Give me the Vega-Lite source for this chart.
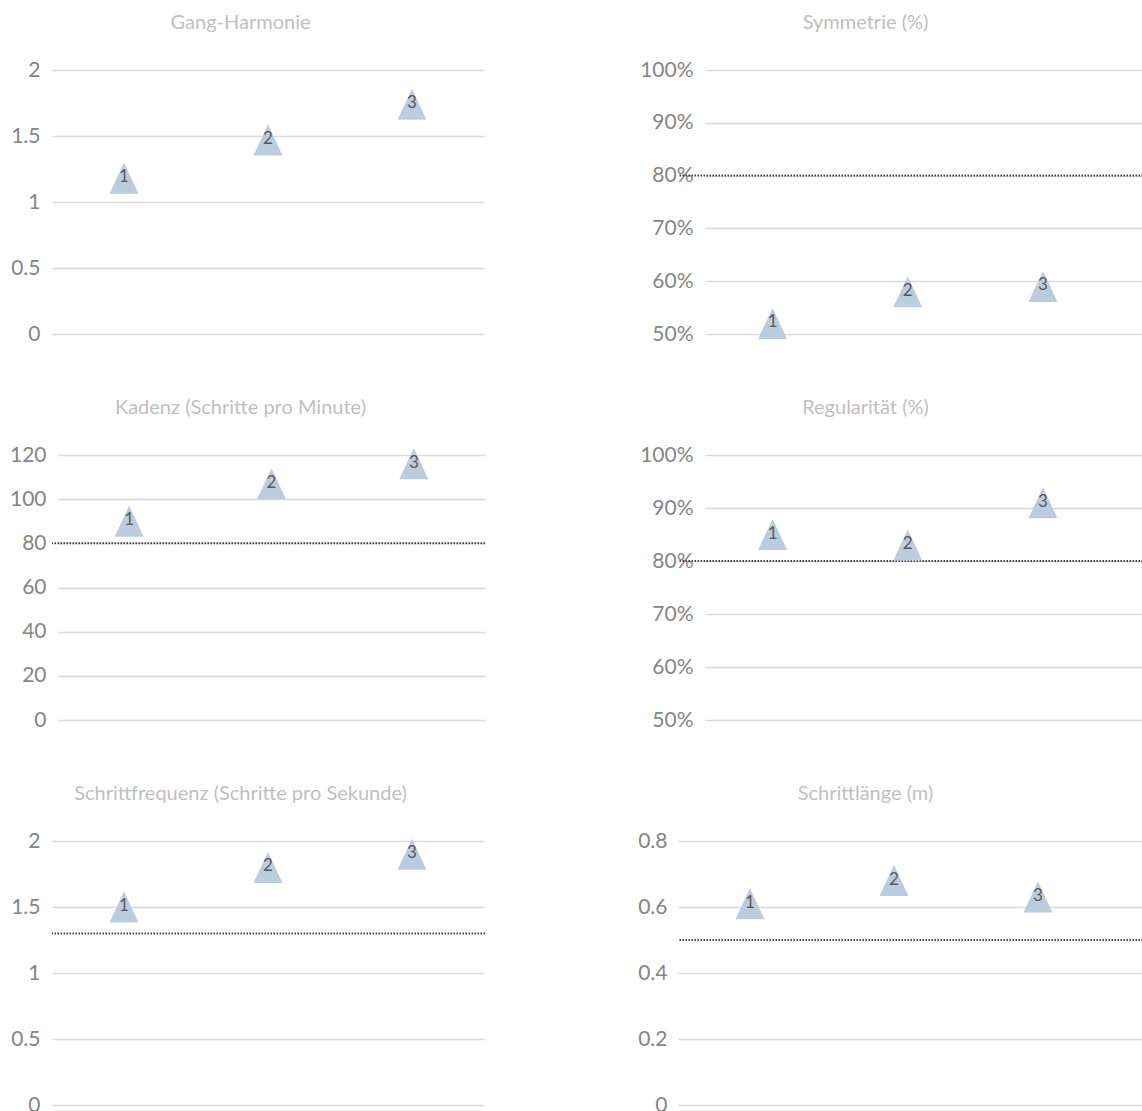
{
  "$schema": "https://vega.github.io/schema/vega-lite/v6.json",
  "padding": {"left": 0, "top": 13, "right": 0, "bottom": 0},
  "background": "white",
  "columns": 2,
  "spacing": {"row": 54, "column": 139},
  "config": {
    "view": {"stroke": null},
    "font": "Lato",
    "title": {"font": "Lato", "fontSize": 20, "fontWeight": "normal", "color": "#BFBFBF", "frame": "group", "anchor": "middle", "offset": 26},
    "axisY": {"domain": false, "ticks": false, "labelPadding": 12, "labelFont": "Lato", "labelFontSize": 21, "labelColor": "#858585", "gridColor": "#D9D9D9", "gridWidth": 1.5, "title": null}
  },
  "datasets": {
    "pts": [
      {"panel": "p1", "cat": 1, "value": 1.18},
      {"panel": "p1", "cat": 2, "value": 1.47},
      {"panel": "p1", "cat": 3, "value": 1.74},
      {"panel": "p2", "cat": 1, "value": 0.52},
      {"panel": "p2", "cat": 2, "value": 0.58},
      {"panel": "p2", "cat": 3, "value": 0.59},
      {"panel": "p3", "cat": 1, "value": 90},
      {"panel": "p3", "cat": 2, "value": 107},
      {"panel": "p3", "cat": 3, "value": 116},
      {"panel": "p4", "cat": 1, "value": 0.85},
      {"panel": "p4", "cat": 2, "value": 0.83},
      {"panel": "p4", "cat": 3, "value": 0.91},
      {"panel": "p5", "cat": 1, "value": 1.5},
      {"panel": "p5", "cat": 2, "value": 1.8},
      {"panel": "p5", "cat": 3, "value": 1.9},
      {"panel": "p6", "cat": 1, "value": 0.61},
      {"panel": "p6", "cat": 2, "value": 0.68},
      {"panel": "p6", "cat": 3, "value": 0.63}
    ],
    "thr": [
      {"panel": "p2", "value": 0.8},
      {"panel": "p3", "value": 80},
      {"panel": "p4", "value": 0.8},
      {"panel": "p5", "value": 1.3},
      {"panel": "p6", "value": 0.5}
    ]
  },
  "concat": [
    {
      "title": {"text": "Gang-Harmonie", "dx": -28},
      "width": 433, "height": 264,
      "data": {"name": "pts"},
      "transform": [{"filter": "datum.panel == 'p1'"}],
      "encoding": {
        "x": {"field": "cat", "type": "quantitative", "scale": {"domain": [0.5, 3.5], "range": [0, 432], "nice": false, "zero": false}, "axis": null},
        "y": {"field": "value", "type": "quantitative", "scale": {"domain": [0, 2], "nice": false, "zero": false}, "axis": {"values": [0, 0.5, 1, 1.5, 2], "format": "~g", "minExtent": 52, "maxExtent": 52}}
      },
      "layer": [
        {"mark": {"type": "point", "shape": "M-1,1.07L1,1.07L0,-1.07Z", "size": 841, "filled": true, "color": "#BCCCDF", "opacity": 1}},
        {"mark": {"type": "text", "font": "Lato", "fontSize": 17, "color": "#595959", "baseline": "middle", "align": "center", "dy": -1}, "encoding": {"text": {"field": "cat", "type": "nominal"}}}
      ]
    },
    {
      "title": {"text": "Symmetrie (%)", "dx": -45},
      "width": 465, "height": 264,
      "encoding": {
        "y": {"field": "value", "type": "quantitative", "scale": {"domain": [0.5, 1], "nice": false, "zero": false}, "axis": {"values": [0.5, 0.6, 0.7, 0.8, 0.9, 1], "format": ".0%", "labelPadding": -15, "minExtent": 53, "maxExtent": 53}}
      },
      "layer": [
        {
          "data": {"name": "thr"},
          "transform": [{"filter": "datum.panel == 'p2'"}],
          "mark": {"type": "rule", "color": "#404040", "strokeWidth": 2, "strokeDash": [1.5, 1.5]}
        },
        {
          "data": {"name": "pts"},
          "transform": [{"filter": "datum.panel == 'p2'"}],
          "encoding": {"x": {"field": "cat", "type": "quantitative", "scale": {"domain": [0.5, 3.74], "range": [27, 465], "nice": false, "zero": false}, "axis": null}},
          "layer": [
            {"mark": {"type": "point", "shape": "M-1,1.07L1,1.07L0,-1.07Z", "size": 841, "filled": true, "color": "#BCCCDF", "opacity": 1}},
            {"mark": {"type": "text", "font": "Lato", "fontSize": 17, "color": "#595959", "baseline": "middle", "align": "center", "dy": -1}, "encoding": {"text": {"field": "cat", "type": "nominal"}}}
          ]
        }
      ]
    },
    {
      "title": {"text": "Kadenz (Schritte pro Minute)", "dx": -28},
      "width": 433, "height": 265,
      "encoding": {
        "y": {"field": "value", "type": "quantitative", "scale": {"domain": [0, 120], "nice": false, "zero": false}, "axis": {"values": [0, 20, 40, 60, 80, 100, 120], "labelPadding": 6, "minExtent": 52, "maxExtent": 52}}
      },
      "layer": [
        {
          "data": {"name": "thr"},
          "transform": [{"filter": "datum.panel == 'p3'"}],
          "mark": {"type": "rule", "color": "#404040", "strokeWidth": 2, "strokeDash": [1.5, 1.5]}
        },
        {
          "data": {"name": "pts"},
          "transform": [{"filter": "datum.panel == 'p3'"}],
          "encoding": {"x": {"field": "cat", "type": "quantitative", "scale": {"domain": [0.5, 3.5], "range": [6, 433], "nice": false, "zero": false}, "axis": null}},
          "layer": [
            {"mark": {"type": "point", "shape": "M-1,1.07L1,1.07L0,-1.07Z", "size": 841, "filled": true, "color": "#BCCCDF", "opacity": 1}},
            {"mark": {"type": "text", "font": "Lato", "fontSize": 17, "color": "#595959", "baseline": "middle", "align": "center", "dy": -1}, "encoding": {"text": {"field": "cat", "type": "nominal"}}}
          ]
        }
      ]
    },
    {
      "title": {"text": "Regularität (%)", "dx": -45},
      "width": 465, "height": 265,
      "encoding": {
        "y": {"field": "value", "type": "quantitative", "scale": {"domain": [0.5, 1], "nice": false, "zero": false}, "axis": {"values": [0.5, 0.6, 0.7, 0.8, 0.9, 1], "format": ".0%", "labelPadding": -15, "minExtent": 53, "maxExtent": 53}}
      },
      "layer": [
        {
          "data": {"name": "thr"},
          "transform": [{"filter": "datum.panel == 'p4'"}],
          "mark": {"type": "rule", "color": "#404040", "strokeWidth": 2, "strokeDash": [1.5, 1.5]}
        },
        {
          "data": {"name": "pts"},
          "transform": [{"filter": "datum.panel == 'p4'"}],
          "encoding": {"x": {"field": "cat", "type": "quantitative", "scale": {"domain": [0.5, 3.74], "range": [27, 465], "nice": false, "zero": false}, "axis": null}},
          "layer": [
            {"mark": {"type": "point", "shape": "M-1,1.07L1,1.07L0,-1.07Z", "size": 841, "filled": true, "color": "#BCCCDF", "opacity": 1}},
            {"mark": {"type": "text", "font": "Lato", "fontSize": 17, "color": "#595959", "baseline": "middle", "align": "center", "dy": -1}, "encoding": {"text": {"field": "cat", "type": "nominal"}}}
          ]
        }
      ]
    },
    {
      "title": {"text": "Schrittfrequenz (Schritte pro Sekunde)", "dx": -28},
      "width": 433, "height": 264,
      "encoding": {
        "y": {"field": "value", "type": "quantitative", "scale": {"domain": [0, 2], "nice": false, "zero": false}, "axis": {"values": [0, 0.5, 1, 1.5, 2], "format": "~g", "minExtent": 52, "maxExtent": 52}}
      },
      "layer": [
        {
          "data": {"name": "thr"},
          "transform": [{"filter": "datum.panel == 'p5'"}],
          "mark": {"type": "rule", "color": "#404040", "strokeWidth": 2, "strokeDash": [1.5, 1.5]}
        },
        {
          "data": {"name": "pts"},
          "transform": [{"filter": "datum.panel == 'p5'"}],
          "encoding": {"x": {"field": "cat", "type": "quantitative", "scale": {"domain": [0.5, 3.5], "range": [0, 432], "nice": false, "zero": false}, "axis": null}},
          "layer": [
            {"mark": {"type": "point", "shape": "M-1,1.07L1,1.07L0,-1.07Z", "size": 841, "filled": true, "color": "#BCCCDF", "opacity": 1}},
            {"mark": {"type": "text", "font": "Lato", "fontSize": 17, "color": "#595959", "baseline": "middle", "align": "center", "dy": -1}, "encoding": {"text": {"field": "cat", "type": "nominal"}}}
          ]
        }
      ]
    },
    {
      "title": {"text": "Schrittlänge (m)", "dx": -45},
      "width": 465, "height": 264,
      "encoding": {
        "y": {"field": "value", "type": "quantitative", "scale": {"domain": [0, 0.8], "nice": false, "zero": false}, "axis": {"values": [0, 0.2, 0.4, 0.6, 0.8], "format": "~g", "labelPadding": 11, "minExtent": 53, "maxExtent": 53}}
      },
      "layer": [
        {
          "data": {"name": "thr"},
          "transform": [{"filter": "datum.panel == 'p6'"}],
          "mark": {"type": "rule", "color": "#404040", "strokeWidth": 2, "strokeDash": [1.5, 1.5]}
        },
        {
          "data": {"name": "pts"},
          "transform": [{"filter": "datum.panel == 'p6'"}],
          "encoding": {"x": {"field": "cat", "type": "quantitative", "scale": {"domain": [0.5, 3.73], "range": [0, 465], "nice": false, "zero": false}, "axis": null}},
          "layer": [
            {"mark": {"type": "point", "shape": "M-1,1.07L1,1.07L0,-1.07Z", "size": 841, "filled": true, "color": "#BCCCDF", "opacity": 1}},
            {"mark": {"type": "text", "font": "Lato", "fontSize": 17, "color": "#595959", "baseline": "middle", "align": "center", "dy": -1}, "encoding": {"text": {"field": "cat", "type": "nominal"}}}
          ]
        }
      ]
    }
  ]
}
